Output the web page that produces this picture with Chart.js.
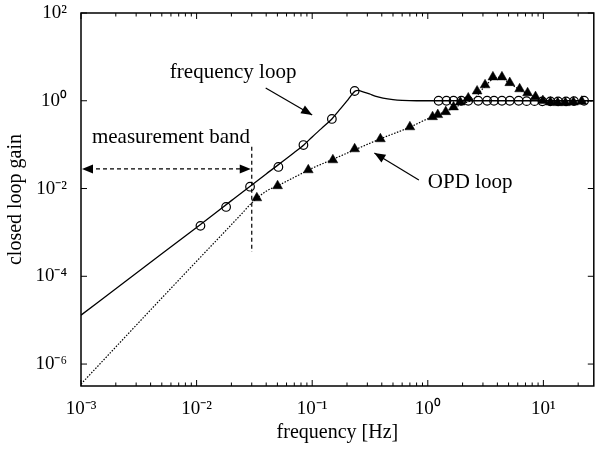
<!DOCTYPE html>
<html>
<head>
<meta charset="utf-8">
<script src="https://cdn.jsdelivr.net/npm/chart.js@4.4.1/dist/chart.umd.min.js"></script>
<style>
  html, body { margin: 0; padding: 0; overflow: hidden; background: #fff; }
  #wrap { width: 600px; height: 451px; }
</style>
</head>
<body>
<div id="wrap"><canvas id="gainChart"></canvas></div>
<script>
// frequency loop: model curve (solid) and measured points (circles)
const freqModelF = [0.001, 0.002, 0.005, 0.01, 0.02, 0.04, 0.07, 0.085, 0.1, 0.12, 0.148, 0.17, 0.2, 0.22, 0.235, 0.25, 0.275, 0.313, 0.35, 0.41, 0.5, 0.6, 0.8, 1, 2, 5, 10, 20, 30];
const freqModelG = [1.3e-5, 5.2e-5, 3.25e-4, 1.3e-3, 5.3e-3, 0.0215, 0.066, 0.1, 0.15, 0.232, 0.385, 0.594, 0.99, 1.38, 1.66, 1.72, 1.6, 1.43, 1.28, 1.15, 1.06, 1.02, 1.0, 1.0, 1.0, 1.0, 1.0, 1.0, 1.0];
const freqMeasF = [0.0108, 0.018, 0.029, 0.051, 0.084, 0.148, 0.233, 1.24, 1.45, 1.67, 1.95, 2.24, 2.73, 3.26, 3.74, 4.38, 5.12, 6.11, 7.16, 8.38, 9.8, 11.5, 13.4, 15.7, 18.4, 22.5];
const freqMeasG = [1.41e-3, 3.8e-3, 0.011, 0.031, 0.098, 0.385, 1.67, 1.0, 1.0, 1.0, 1.0, 1.0, 1.0, 1.0, 1.0, 1.0, 1.0, 1.0, 0.98, 0.98, 0.97, 0.97, 0.97, 0.97, 0.98, 1.0];

// OPD loop: model curve (dotted) and measured points (triangles)
const opdModelF = [0.001, 0.002, 0.005, 0.01, 0.02, 0.025, 0.03, 0.04, 0.05, 0.07, 0.1, 0.15, 0.23, 0.4, 0.7, 1.0, 1.5, 2.0, 2.5, 3.0, 3.7, 4.2, 5.0, 6.0, 7.0, 8.5, 10, 12, 15, 18, 22, 30];
const opdModelG = [3.5e-7, 2.45e-6, 3.2e-5, 2.2e-4, 1.5e-3, 2.8e-3, 4.7e-3, 8.7e-3, 0.0115, 0.018, 0.029, 0.046, 0.075, 0.14, 0.25, 0.39, 0.6, 0.85, 1.1, 1.9, 3.2, 3.4, 2.6, 1.9, 1.5, 1.2, 1.0, 0.85, 0.85, 0.92, 0.97, 1.0];
const opdMeasF = [0.0332, 0.0502, 0.0925, 0.151, 0.233, 0.389, 0.70, 1.10, 1.22, 1.43, 1.67, 1.91, 2.24, 2.67, 3.13, 3.66, 4.38, 5.12, 6.23, 7.3, 8.55, 9.9, 11.5, 13.3, 15.5, 18.2, 21.5];
const opdMeasG = [6.1e-3, 0.0115, 0.0265, 0.0448, 0.0798, 0.135, 0.253, 0.43, 0.48, 0.56, 0.72, 0.93, 1.15, 1.66, 2.29, 3.47, 3.47, 2.57, 1.86, 1.51, 1.23, 1.0, 0.93, 0.9, 0.9, 0.93, 0.97];

// axis ticks
const xTickVals = [1e-3, 1e-2, 1e-1, 1, 10];
const xTickLabels = ['10\u207B\u00B3', '10\u207B\u00B2', '10\u207B\u00B9', '10\u2070', '10\u00B9'];
const yTickVals = [1e-6, 1e-4, 1e-2, 1, 100];
const yTickLabels = ['10\u207B\u2076', '10\u207B\u2074', '10\u207B\u00B2', '10\u2070', '10\u00B2'];

// annotations (data coordinates)
const bandFreq = 0.03;
const noteFreqLoop = { text: 'frequency loop', x: 0.0207, y: 4.3, from: [0.0396, 1.96], to: [0.1, 0.475] };
const noteOpdLoop = { text: 'OPD loop', x: 1.0, y: 0.0134, from: [0.837, 0.0157], to: [0.345, 0.0647] };
const noteBand = { text: 'measurement band', x: 0.006, y: 0.142, arrowY: 0.028, lineTop: 0.089, lineBottom: 3.6e-4 };

const serif = '"Liberation Serif", "Times New Roman", serif';
Chart.defaults.font.family = serif;
Chart.defaults.color = '#000';

const pts = (xs, ys) => xs.map((x, i) => ({ x: x, y: ys[i] }));

function seg(ctx, x1, y1, x2, y2) {
  ctx.beginPath(); ctx.moveTo(x1, y1); ctx.lineTo(x2, y2); ctx.stroke();
}

function arrowHead(ctx, x1, y1, x2, y2, len, half) {
  const a = Math.atan2(y2 - y1, x2 - x1);
  ctx.beginPath();
  ctx.moveTo(x2, y2);
  ctx.lineTo(x2 - len * Math.cos(a) + half * Math.sin(a), y2 - len * Math.sin(a) - half * Math.cos(a));
  ctx.lineTo(x2 - len * Math.cos(a) - half * Math.sin(a), y2 - len * Math.sin(a) + half * Math.cos(a));
  ctx.closePath();
  ctx.fill();
}

const framePlugin = {
  id: 'frame',
  afterDatasetsDraw(chart) {
    const { ctx, chartArea: a, scales: { x, y } } = chart;
    ctx.save();
    ctx.strokeStyle = '#000';
    ctx.fillStyle = '#000';
    ctx.lineWidth = 1.5;
    ctx.strokeRect(a.left, a.top, a.right - a.left, a.bottom - a.top);

    // inward tick marks, bottom/top with minor ticks
    ctx.lineWidth = 1;
    for (let e = -3; e <= 1; e++) {
      for (let m = 1; m < 10; m++) {
        const v = m * Math.pow(10, e);
        if (v > x.max) break;
        const px = x.getPixelForValue(v);
        const len = m === 1 ? 6 : 3.5;
        seg(ctx, px, a.bottom, px, a.bottom - len);
        seg(ctx, px, a.top, px, a.top + len);
      }
    }
    yTickVals.forEach(v => {
      const py = y.getPixelForValue(v);
      seg(ctx, a.left, py, a.left + 6, py);
      seg(ctx, a.right, py, a.right - 6, py);
    });

    // annotations
    ctx.font = '21px ' + serif;
    ctx.textBaseline = 'middle';
    ctx.textAlign = 'center';
    ctx.fillText(noteFreqLoop.text, x.getPixelForValue(noteFreqLoop.x), y.getPixelForValue(noteFreqLoop.y));
    ctx.fillText(noteBand.text, x.getPixelForValue(noteBand.x), y.getPixelForValue(noteBand.y));
    ctx.textAlign = 'left';
    ctx.fillText(noteOpdLoop.text, x.getPixelForValue(noteOpdLoop.x), y.getPixelForValue(noteOpdLoop.y));

    [noteFreqLoop, noteOpdLoop].forEach(n => {
      const x1 = x.getPixelForValue(n.from[0]), y1 = y.getPixelForValue(n.from[1]);
      const x2 = x.getPixelForValue(n.to[0]), y2 = y.getPixelForValue(n.to[1]);
      ctx.lineWidth = 1.2;
      seg(ctx, x1, y1, x2, y2);
      arrowHead(ctx, x1, y1, x2, y2, 11, 4.5);
    });

    // measurement band: dashed double arrow and dashed vertical line
    const bx = x.getPixelForValue(bandFreq);
    const ay = y.getPixelForValue(noteBand.arrowY);
    ctx.lineWidth = 1.2;
    ctx.setLineDash([4, 3]);
    seg(ctx, a.left + 8, ay, bx - 8, ay);
    seg(ctx, bx, y.getPixelForValue(noteBand.lineTop), bx, y.getPixelForValue(noteBand.lineBottom));
    ctx.setLineDash([]);
    arrowHead(ctx, bx - 10, ay, bx - 1, ay, 11, 4.5);
    arrowHead(ctx, a.left + 10, ay, a.left + 1, ay, 11, 4.5);
    ctx.restore();
  }
};

new Chart(document.getElementById('gainChart'), {
  type: 'scatter',
  data: {
    datasets: [
      {
        label: 'frequency loop model',
        data: pts(freqModelF, freqModelG),
        showLine: true,
        borderColor: '#000',
        borderWidth: 1.3,
        pointRadius: 0,
        cubicInterpolationMode: 'monotone'
      },
      {
        label: 'OPD loop model',
        data: pts(opdModelF, opdModelG),
        showLine: true,
        borderColor: '#000',
        borderWidth: 1.2,
        borderDash: [1.5, 1.5],
        pointRadius: 0,
        cubicInterpolationMode: 'monotone'
      },
      {
        label: 'frequency loop',
        data: pts(freqMeasF, freqMeasG),
        pointStyle: 'circle',
        pointRadius: 4.3,
        pointBorderWidth: 1.2,
        borderColor: '#000',
        backgroundColor: 'rgba(255,255,255,0)'
      },
      {
        label: 'OPD loop',
        data: pts(opdMeasF, opdMeasG),
        pointStyle: 'triangle',
        pointRadius: 5.7,
        pointBorderWidth: 0.5,
        borderColor: '#000',
        backgroundColor: '#000'
      }
    ]
  },
  options: {
    responsive: true,
    maintainAspectRatio: false,
    animation: false,
    layout: { padding: { top: 13, right: 0, left: 0, bottom: 0 } },
    plugins: { legend: { display: false }, tooltip: { enabled: false } },
    scales: {
      x: {
        type: 'logarithmic',
        min: 1e-3,
        max: 27.3,
        afterBuildTicks: s => { s.ticks = xTickVals.map(v => ({ value: v })); },
        afterFit: s => { s.height = 65; s.paddingLeft = 0; s.paddingRight = 0; },
        ticks: {
          autoSkip: false,
          maxRotation: 0,
          padding: 4,
          font: { size: 19 },
          callback: v => xTickLabels[xTickVals.findIndex(t => Math.abs(Math.log10(t) - Math.log10(v)) < 1e-6)]
        },
        grid: { display: false },
        border: { display: false },
        title: { display: true, text: 'frequency [Hz]', font: { size: 20 }, padding: { top: 0, bottom: 6 } }
      },
      y: {
        type: 'logarithmic',
        min: Math.pow(10, -6.5),
        max: 100,
        afterBuildTicks: s => { s.ticks = yTickVals.map(v => ({ value: v })); },
        afterFit: s => { s.width = 81; s.paddingTop = 0; s.paddingBottom = 0; },
        ticks: {
          autoSkip: false,
          padding: 6,
          font: { size: 19 },
          callback: v => yTickLabels[yTickVals.findIndex(t => Math.abs(Math.log10(t) - Math.log10(v)) < 1e-6)]
        },
        grid: { display: false },
        border: { display: false },
        title: { display: true, text: 'closed loop gain', font: { size: 20 }, padding: { top: 4, bottom: 0 } }
      }
    }
  },
  plugins: [framePlugin]
});
</script>
</body>
</html>
